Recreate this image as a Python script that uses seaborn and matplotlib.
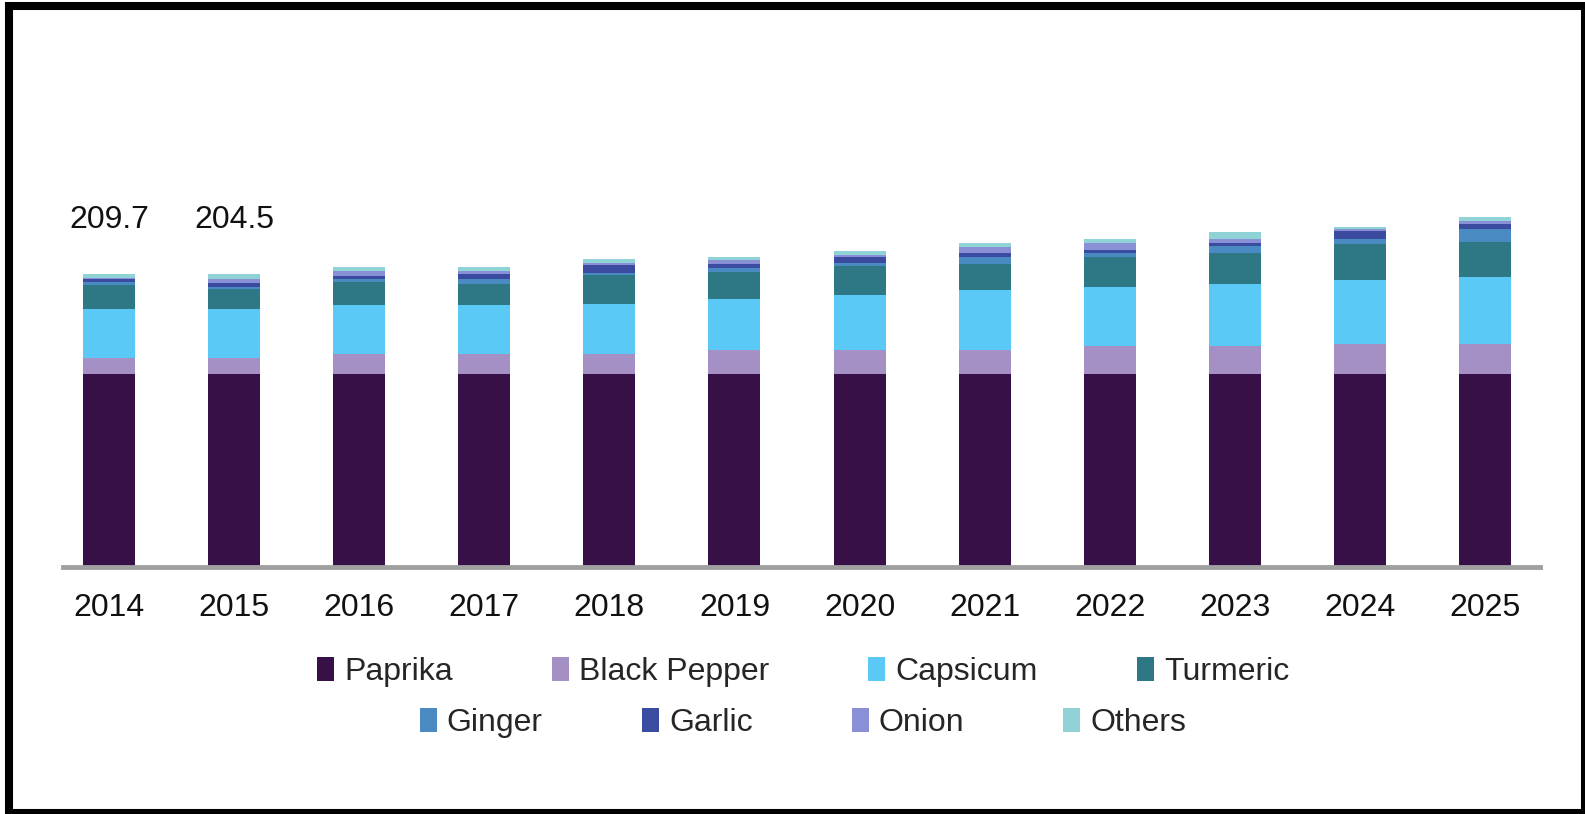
import pandas as pd
import matplotlib.pyplot as plt
from matplotlib.patches import Patch, Rectangle
import seaborn as sns

# Data
years = ['2014', '2015', '2016', '2017', '2018', '2019',
         '2020', '2021', '2022', '2023', '2024', '2025']
paprika = [138.1, 138.1, 138.1, 138.1, 138.1, 138.1, 138.1, 138.1, 138.1, 138.1, 138.1, 138.1]
black_pepper = [11.5, 11.5, 14.3, 14.3, 14.3, 17.2, 17.2, 17.2, 20.0, 20.0, 21.5, 21.5]
capsicum = [35.1, 35.1, 35.1, 35.1, 35.8, 36.5, 39.4, 42.9, 42.2, 44.4, 45.8, 48.0]
turmeric = [17.2, 14.3, 16.5, 15.0, 20.8, 19.3, 20.8, 18.6, 21.5, 22.2, 25.8, 25.0]
ginger = [2.1, 1.4, 2.1, 3.6, 1.4, 2.9, 2.1, 5.0, 2.9, 5.0, 3.6, 9.3]
garlic = [2.1, 2.9, 2.1, 3.6, 5.7, 2.9, 4.3, 2.9, 2.1, 2.1, 5.7, 3.6]
onion = [0.7, 2.9, 3.6, 2.1, 1.4, 2.9, 1.4, 4.3, 5.0, 2.9, 1.4, 2.1]
others = [2.9, 3.6, 2.9, 2.9, 2.9, 2.1, 2.5, 2.9, 2.9, 5.0, 1.4, 2.9]

segments = ['Paprika', 'Black Pepper', 'Capsicum', 'Turmeric',
            'Ginger', 'Garlic', 'Onion', 'Others']
colors = ['#371047', '#a590c5', '#5bc9f5', '#2e7785',
          '#4a8ac2', '#3b4ca0', '#8a90d6', '#8fd3d6']

label_years = ['2014', '2015']
label_values = [209.7, 204.5]

df = pd.DataFrame({'year': years, 'Paprika': paprika, 'Black Pepper': black_pepper,
                   'Capsicum': capsicum, 'Turmeric': turmeric, 'Ginger': ginger,
                   'Garlic': garlic, 'Onion': onion, 'Others': others})
cum = df[segments].cumsum(axis=1)
cum['year'] = df['year']

sns.set_style('white')
plt.rcParams['font.family'] = ['Liberation Sans', 'DejaVu Sans']
FS = 23

fig = plt.figure(figsize=(15.85, 8.14), dpi=100)
ax = fig.add_axes([63 / 1585, 247 / 814, 1477 / 1585, 527 / 814])

# stacked bars: draw cumulative totals from the top segment down
for seg, col in reversed(list(zip(segments, colors))):
    sns.barplot(data=cum, x='year', y=seg, color=col, saturation=1,
                width=0.416, errorbar=None, ax=ax, zorder=2, linewidth=0)

ax.set_xlim(-0.368, 11.44)
ax.set_ylim(0, 377)
ax.set_xlabel('')
ax.set_ylabel('')
ax.set_yticks([])
for s in ['left', 'right', 'top']:
    ax.spines[s].set_visible(False)
ax.spines['bottom'].set_color('#a0a0a0')
ax.spines['bottom'].set_linewidth(3.5)
ax.tick_params(axis='x', length=0, pad=19, labelsize=FS, labelcolor='#111111')

for yr, val in zip(label_years, label_values):
    ax.text(years.index(yr), 248, f'{val}', ha='center', va='center',
            fontsize=FS, color='#111111')

handles = [Patch(facecolor=c, edgecolor='none', label=s) for s, c in zip(segments, colors)]
leg_kw = dict(loc='center', ncol=4, frameon=False, fontsize=FS, handlelength=0.53,
              handleheight=0.8, handletextpad=0.32, columnspacing=3.1, borderpad=0)
leg1 = fig.legend(handles=handles[:4], bbox_to_anchor=(803 / 1585, 1 - 672 / 814), **leg_kw)
leg2 = fig.legend(handles=handles[4:], bbox_to_anchor=(803 / 1585, 1 - 723 / 814), **leg_kw)

# black frame around the image
fig.patches.append(Rectangle((9 / 1585, 1 / 814), 1576 / 1585, 807.5 / 814,
                             transform=fig.transFigure, fill=False,
                             edgecolor='black', linewidth=5.8))

fig.savefig('out.png', dpi=100)
